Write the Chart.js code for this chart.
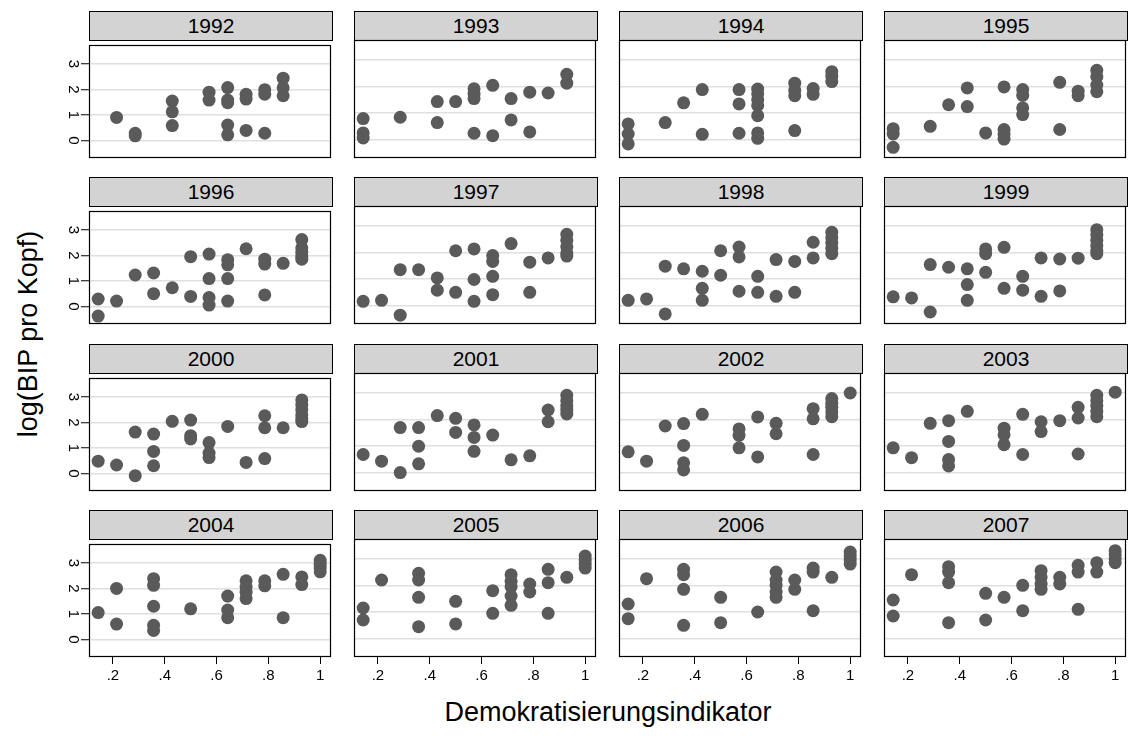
<!DOCTYPE html>
<html>
<head>
<meta charset="utf-8">
<script src="https://cdn.jsdelivr.net/npm/chart.js@4.4.1/dist/chart.umd.min.js"></script>
<style>
  body { margin: 0; background: #fff; }
  #wrap { position: relative; width: 1129px; height: 736px; font-family: Arial, "Liberation Sans", sans-serif; overflow: hidden; }
  .kopf { position: absolute; height: 30px; background: #d3d3d3; border: 1px solid #000; box-sizing: border-box;
          text-align: center; font-size: 21px; line-height: 28px; color: #000; }
  canvas { position: absolute; }
  #ytitel { position: absolute; left: 28px; top: 334px; transform: translate(-50%, -50%) rotate(-90deg); white-space: nowrap; font-size: 27px; color: #000; }
  #xtitel { position: absolute; left: 608px; top: 712px; transform: translate(-50%, -50%); white-space: nowrap; font-size: 27px; color: #000; }
</style>
</head>
<body>
<div id="wrap">
  <div id="ytitel">log(BIP pro Kopf)</div>
  <div id="xtitel">Demokratisierungsindikator</div>
</div>
<script>
// Daten: [Demokratisierungsindikator, log(BIP pro Kopf)] je Jahr
const jahre = [1992, 1993, 1994, 1995, 1996, 1997, 1998, 1999, 2000, 2001, 2002, 2003, 2004, 2005, 2006, 2007]

const p1992 = [[.214,.9],[.286,.28],[.286,.18],[.429,1.54],[.429,1.12],[.429,.58],[.571,1.89],[.571,1.58],
  [.643,2.07],[.643,1.58],[.643,1.48],[.643,.6],[.643,.22],[.714,1.81],[.714,1.62],[.714,.39],
  [.786,1.99],[.786,1.81],[.786,.28],[.857,2.44],[.857,2.06],[.857,1.75]]
const p1993 = [[.143,.79],[.143,.25],[.143,.06],[.286,.84],[.429,1.43],[.429,.64],[.5,1.43],
  [.571,1.91],[.571,1.71],[.571,1.54],[.571,.24],[.643,2.04],[.643,.15],[.714,1.54],[.714,.74],
  [.786,1.78],[.786,.29],[.857,1.75],[.929,2.45],[.929,2.12]]
const p1994 = [[.143,.59],[.143,.21],[.143,-.16],[.286,.64],[.357,1.38],[.429,1.88],[.429,.2],
  [.571,1.88],[.571,1.34],[.571,.24],[.643,1.9],[.643,1.72],[.643,1.5],[.643,1.28],[.643,.9],[.643,.25],[.643,.05],
  [.786,2.12],[.786,1.85],[.786,1.65],[.786,.34],[.857,1.92],[.857,1.7],[.929,2.55],[.929,2.38],[.929,2.18]]
const p1995 = [[.143,.41],[.143,.21],[.143,-.29],[.286,.5],[.357,1.31],[.429,1.94],[.429,1.24],[.5,.25],
  [.571,1.98],[.571,.38],[.571,.2],[.571,.02],[.643,1.88],[.643,1.66],[.643,1.19],[.643,.94],
  [.786,2.15],[.786,.38],[.857,1.82],[.857,1.65],[.929,2.6],[.929,2.35],[.929,2.05],[.929,1.8]]
const p1996 = [[.143,.29],[.143,-.38],[.214,.21],[.286,1.23],[.357,1.31],[.357,.5],[.429,.73],[.5,1.95],[.5,.39],
  [.571,2.05],[.571,1.09],[.571,.35],[.571,.05],[.643,1.83],[.643,1.63],[.643,1.09],[.643,.21],[.714,2.26],
  [.786,1.85],[.786,1.66],[.786,.45],[.857,1.69],[.929,2.62],[.929,2.3],[.929,2.12],[.929,1.98],[.929,1.85]]
const p1997 = [[.143,.16],[.214,.2],[.286,1.35],[.286,-.36],[.357,1.35],[.429,1.04],[.429,.58],[.5,2.06],[.5,.5],
  [.571,2.13],[.571,.98],[.571,.16],[.643,1.88],[.643,1.66],[.643,1.1],[.643,.41],[.714,2.33],
  [.786,1.63],[.786,.5],[.857,1.79],[.929,2.68],[.929,2.45],[.929,2.2],[.929,1.98],[.929,1.86]]
const p1998 = [[.143,.2],[.214,.25],[.286,1.48],[.286,-.31],[.357,1.38],[.429,1.29],[.429,.65],[.429,.2],
  [.5,2.06],[.5,1.14],[.571,2.2],[.571,1.83],[.571,.54],[.643,1.1],[.643,.5],[.714,1.73],[.714,.35],
  [.786,1.66],[.786,.5],[.857,2.38],[.857,1.79],[.929,2.75],[.929,2.55],[.929,2.35],[.929,2.15],[.929,1.95]]
const p1999 = [[.143,.33],[.214,.29],[.286,1.54],[.286,-.24],[.357,1.44],[.429,1.38],[.429,.79],[.429,.2],
  [.5,2.13],[.5,1.95],[.5,1.25],[.571,2.19],[.571,.65],[.643,1.1],[.643,.58],[.714,1.79],[.714,.35],
  [.786,1.75],[.786,.55],[.857,1.78],[.929,2.85],[.929,2.65],[.929,2.45],[.929,2.25],[.929,2.05],[.929,1.95]]
const p2000 = [[.143,.48],[.214,.33],[.286,1.62],[.286,-.09],[.357,1.54],[.357,.86],[.357,.3],[.429,2.04],
  [.5,2.09],[.5,1.48],[.5,1.35],[.571,1.21],[.571,.8],[.571,.62],[.643,1.84],[.714,.43],
  [.786,2.26],[.786,1.79],[.786,.58],[.857,1.79],[.929,2.88],[.929,2.7],[.929,2.5],[.929,2.3],[.929,2.15],[.929,2.03]]
const p2001 = [[.143,.68],[.214,.43],[.286,1.69],[.286,0],[.357,1.69],[.357,.99],[.357,.33],[.429,2.14],
  [.5,2.04],[.5,1.51],[.571,1.79],[.571,1.32],[.571,.8],[.643,1.41],[.714,.48],[.786,.63],
  [.857,2.35],[.857,1.91],[.929,2.9],[.929,2.7],[.929,2.5],[.929,2.35],[.929,2.2]]
const p2002 = [[.143,.78],[.214,.43],[.286,1.75],[.357,1.84],[.357,1.02],[.357,.37],[.357,.1],[.429,2.19],
  [.571,1.64],[.571,1.4],[.571,.93],[.643,2.09],[.643,.59],[.714,1.85],[.714,1.46],
  [.857,2.4],[.857,2.02],[.857,.68],[.929,2.78],[.929,2.6],[.929,2.45],[.929,2.28],[.929,2.1],[1,2.99]]
const p2003 = [[.143,.93],[.214,.56],[.286,1.85],[.357,1.95],[.357,1.17],[.357,.49],[.357,.25],[.429,2.3],
  [.571,1.67],[.571,1.42],[.571,1.05],[.643,2.19],[.643,.68],[.714,1.91],[.714,1.54],[.786,1.95],
  [.857,2.45],[.857,2.05],[.857,.7],[.929,2.9],[.929,2.7],[.929,2.5],[.929,2.3],[.929,2.1],[1,3.02]]
const p2004 = [[.143,1.05],[.214,2],[.214,.6],[.357,2.38],[.357,2.12],[.357,1.3],[.357,.55],[.357,.35],[.5,1.2],
  [.643,1.7],[.643,1.15],[.643,.85],[.714,2.3],[.714,2.05],[.714,1.85],[.714,1.6],[.786,2.3],[.786,2.1],
  [.857,2.55],[.857,.85],[.929,2.45],[.929,2.15],[1,3.1],[1,2.95],[1,2.8],[1,2.65]]
const p2005 = [[.143,1.15],[.143,.7],[.214,2.2],[.357,2.45],[.357,2.2],[.357,1.55],[.357,.45],[.5,1.4],[.5,.55],
  [.643,1.8],[.643,.95],[.714,2.4],[.714,2.15],[.714,1.95],[.714,1.6],[.714,1.25],[.786,2.05],[.786,1.75],
  [.857,2.6],[.857,2.1],[.857,.95],[.929,2.3],[1,3.1],[1,2.95],[1,2.8],[1,2.65]]
const p2006 = [[.143,1.3],[.143,.75],[.214,2.25],[.357,2.6],[.357,2.4],[.357,1.85],[.357,.5],[.5,1.55],[.5,.6],
  [.643,1],[.714,2.5],[.714,2.2],[.714,2],[.714,1.75],[.714,1.55],[.786,2.2],[.786,1.85],
  [.857,2.65],[.857,2.5],[.857,1.05],[.929,2.3],[1,3.25],[1,3.1],[1,2.95],[1,2.8]]
const p2007 = [[.143,1.45],[.143,.85],[.214,2.4],[.357,2.7],[.357,2.5],[.357,2.1],[.357,.6],[.5,1.7],[.5,.7],
  [.571,1.55],[.643,2],[.643,1.05],[.714,2.55],[.714,2.3],[.714,2.05],[.714,1.85],[.786,2.3],[.786,2.05],
  [.857,2.75],[.857,2.5],[.857,1.1],[.929,2.85],[.929,2.5],[1,3.3],[1,3.15],[1,3],[1,2.85]]

const werte = [p1992, p1993, p1994, p1995, p1996, p1997, p1998, p1999,
               p2000, p2001, p2002, p2003, p2004, p2005, p2006, p2007]

const yTicks = [0, 1, 2, 3]
const xTicks = [0.2, 0.4, 0.6, 0.8, 1]
const xTickText = ['.2', '.4', '.6', '.8', '1']
const xBereich = [0.1076, 1.0398]
const yBereich = [-0.69, 3.74]

// Layout
const spaltenX = [89, 354, 619, 884]
const zeilenY = [11, 177, 344, 510]
const breite = 244, kopfH = 29, plotH = 118
const links = 40, oben = 8, rechts = 4, unten = 32

const rahmen = {
  id: 'rahmen',
  afterDraw(chart) {
    const { ctx, chartArea: a } = chart
    ctx.save()
    ctx.strokeStyle = '#000'
    ctx.lineWidth = 1.2
    ctx.strokeRect(Math.round(a.left) + 0.5, Math.round(a.top) + 0.5,
                   Math.round(a.right - a.left) - 1, Math.round(a.bottom - a.top) - 1)
    ctx.restore()
  }
}

const wrap = document.querySelector('#wrap')

jahre.forEach((jahr, i) => {
  const zeile = Math.floor(i / 4), spalte = i % 4
  const x0 = spaltenX[spalte], y0 = zeilenY[zeile]
  const ersteSpalte = spalte === 0
  const letzteZeile = zeile === 3

  let kopf = document.createElement('div')
  kopf.className = 'kopf'
  kopf.style.left = x0 + 'px'
  kopf.style.top = y0 + 'px'
  kopf.style.width = breite + 'px'
  kopf.textContent = jahr
  wrap.appendChild(kopf)

  let cv = document.createElement('canvas')
  cv.width = links + breite + rechts
  cv.height = oben + plotH + unten
  cv.style.left = (x0 - links) + 'px'
  cv.style.top = (y0 + kopfH - oben) + 'px'
  wrap.appendChild(cv)

  new Chart(cv, {
    type: 'scatter',
    data: {
      datasets: [{
        data: werte[i].map(p => ({ x: p[0], y: p[1] })),
        backgroundColor: '#5a5a5a',
        borderWidth: 0,
        pointRadius: 6.5,
        pointHoverRadius: 6.5
      }]
    },
    options: {
      responsive: false,
      devicePixelRatio: 1,
      animation: false,
      layout: { padding: { top: oben, right: rechts, left: 0, bottom: 0 } },
      plugins: { legend: { display: false }, tooltip: { enabled: false } },
      scales: {
        x: {
          type: 'linear',
          min: xBereich[0],
          max: xBereich[1],
          afterBuildTicks: s => { s.ticks = xTicks.map(v => ({ value: v })) },
          afterFit: s => { s.height = unten },
          border: { display: false },
          grid: { drawOnChartArea: false, drawTicks: letzteZeile, tickLength: 7, tickColor: '#000', tickWidth: 1 },
          ticks: {
            display: letzteZeile,
            autoSkip: false, maxRotation: 0, minRotation: 0, padding: 3,
            color: '#000', font: { family: 'Arial, "Liberation Sans", sans-serif', size: 15 },
            callback: (v, idx) => xTickText[idx]
          }
        },
        y: {
          type: 'linear',
          min: yBereich[0],
          max: yBereich[1],
          afterBuildTicks: s => { s.ticks = yTicks.map(v => ({ value: v })) },
          afterFit: s => { s.width = links },
          border: { display: false },
          grid: { color: '#e0e0e0', lineWidth: 1.5, drawTicks: ersteSpalte, tickLength: 8, tickColor: '#000', tickWidth: 1 },
          ticks: {
            display: ersteSpalte,
            minRotation: -90, maxRotation: -90, crossAlign: 'center', padding: 4,
            color: '#000', font: { family: 'Arial, "Liberation Sans", sans-serif', size: 15 },
            callback: v => String(v)
          }
        }
      }
    },
    plugins: [rahmen]
  })
})
</script>
</body>
</html>
